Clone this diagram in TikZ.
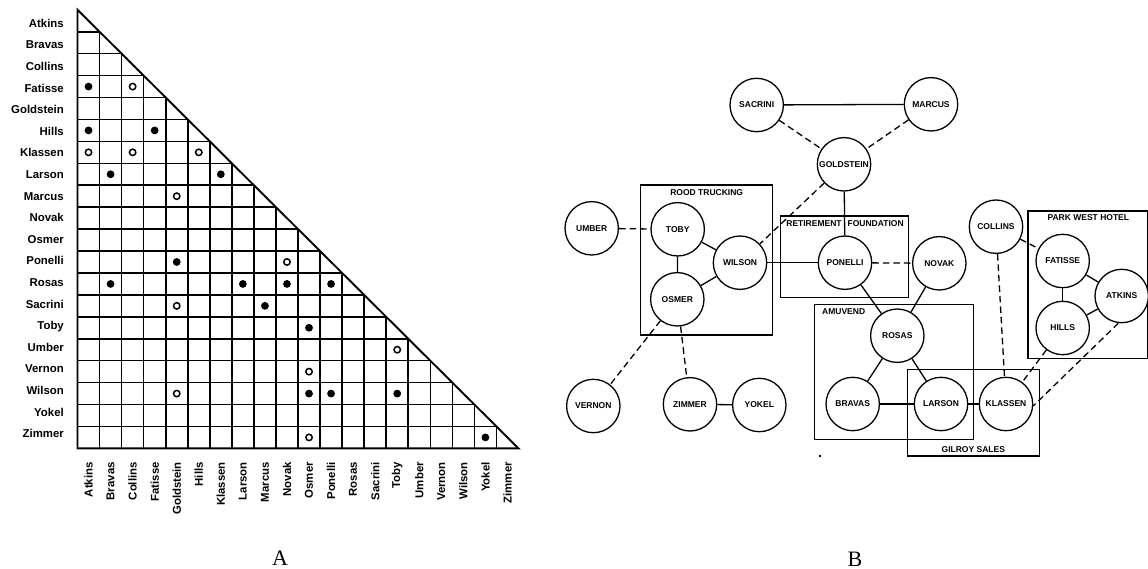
\documentclass[tikz,border=0pt]{standalone}
\usepackage{fontspec}
\setmainfont{Liberation Serif}
\setsansfont{Liberation Sans}
\begin{document}
\begin{tikzpicture}[x=1pt,y=-1pt,
  gridline/.style={line width=1.6pt},
  rowlab/.style={font=\sffamily\bfseries\fontsize{11.4}{13}\selectfont,anchor=base east,inner sep=0pt},
  collab/.style={font=\sffamily\bfseries\fontsize{11.4}{13}\selectfont,rotate=90,anchor=east,inner sep=0pt},
  person/.style={circle,draw,line width=1.3pt,fill=white,minimum size=53.4pt,inner sep=0pt,
     font=\sffamily\bfseries\fontsize{8.5}{10}\selectfont},
  tie/.style={line width=1.3pt},
  weak/.style={line width=1.3pt,dash pattern=on 6.5pt off 4pt},
  orgbox/.style={line width=1.2pt},
  orglab/.style={font=\sffamily\bfseries\fontsize{8.5}{10}\selectfont,inner sep=0pt},
  biglab/.style={font=\fontsize{22}{26}\selectfont,inner sep=0pt}
]
\useasboundingbox (0,0) rectangle (1148,569);
\fill[white] (0,0) rectangle (1148,569);

% ---------- matrix A ----------
\pgfmathsetmacro\mL{77.5}
\pgfmathsetmacro\mT{9.8}
\pgfmathsetmacro\mW{22.05}
\pgfmathsetmacro\mH{21.93}
\pgfmathsetmacro\mR{\mL+20*\mW}
\pgfmathsetmacro\mB{\mT+20*\mH}
\foreach \i in {1,...,19}
  \draw[gridline] (\mL,{\mT+\i*\mH}) -- ({\mL+\i*\mW},{\mT+\i*\mH});
\foreach \j in {1,...,19}
  \draw[gridline] ({\mL+\j*\mW},{\mT+\j*\mH}) -- ({\mL+\j*\mW},\mB);
\draw[line width=1.9pt,line join=miter] (\mL,\mT) -- (\mL,\mB) -- (\mR,\mB) -- cycle;

\foreach \n [count=\i from 0] in {Atkins,Bravas,Collins,Fatisse,Goldstein,Hills,Klassen,Larson,Marcus,Novak,Osmer,Ponelli,Rosas,Sacrini,Toby,Umber,Vernon,Wilson,Yokel,Zimmer}
{
  \node[rowlab] (row\i) at (64,{27.3+21.6*\i}) {\n};
  \node[collab] (col\i) at ({\mL+\mW*(\i+0.5)},462) {\n};
}

\foreach \i/\j in {3/0,5/0,5/3,7/1,7/6,11/4,12/1,12/7,12/9,12/11,13/8,14/10,17/10,17/11,17/14,19/18}
  \fill ({\mL+\mW*(\j+0.5)},{\mT+\mH*(\i+0.5)}) circle (3.9);
\foreach \i/\j in {3/2,6/0,6/2,6/5,8/4,11/9,13/4,15/14,16/10,17/4,19/10}
  \draw[line width=1.5pt] ({\mL+\mW*(\j+0.5)},{\mT+\mH*(\i+0.5)}) circle (3.2);

\node[biglab] (labA) at (280,558.3) {A};

% ---------- network B ----------
\draw[orgbox] (640.7,185) rectangle (772.7,335);
\node[orglab] (lrood) at (706.7,192.7) {ROOD TRUCKING};
\draw[orgbox] (780.7,216) rectangle (908.3,297.7);
\draw[orgbox] (814.3,304.3) rectangle (973.3,439.5);
\node[orglab,anchor=west] (lamu) at (822,311.7) {AMUVEND};
\draw[orgbox] (907.7,369.3) rectangle (1039.3,456);
\node[orglab] (lgil) at (973.3,449.3) {GILROY SALES};
\draw[orgbox] (1028,211) rectangle (1147.3,358.5);
\node[orglab] (lpark) at (1088.3,217.7) {PARK WEST HOTEL};

\node[person] (sac) at (756.7,105) {SACRINI};
\node[person] (mar) at (931,104.3) {MARCUS};
\node[person] (gol) at (844,164.3) {GOLDSTEIN};
\node[person] (umb) at (591.7,228.3) {UMBER};
\node[person] (tob) at (677.7,229.3) {TOBY};
\node[person] (wil) at (740,262.7) {WILSON};
\node[person] (osm) at (677.3,299.3) {OSMER};
\node[person] (pon) at (845,262.7) {PONELLI};
\node[person] (nov) at (939.3,263.3) {NOVAK};
\node[person] (col) at (996,226.7) {COLLINS};
\node[person] (fat) at (1062.7,261) {FATISSE};
\node[person] (atk) at (1121.7,296) {ATKINS};
\node[person] (hil) at (1062.7,328) {HILLS};
\node[person] (ros) at (897.3,335.7) {ROSAS};
\node[person] (bra) at (852.7,404) {BRAVAS};
\node[person] (lar) at (941,404) {LARSON};
\node[person] (kla) at (1006,404) {KLASSEN};
\node[person] (ver) at (593.3,406) {VERNON};
\node[person] (zim) at (690,404.3) {ZIMMER};
\node[person] (yok) at (759.3,405) {YOKEL};

\draw[tie] (sac) -- (mar);
\draw[tie] (gol) -- (pon);
\draw[tie] (tob) -- (wil);
\draw[tie] (tob) -- (osm);
\draw[tie] (osm) -- (wil);
\draw[tie] (wil) -- (pon);
\draw[tie] (pon) -- (ros);
\draw[tie] (nov) -- (ros);
\draw[tie] (ros) -- (bra);
\draw[tie] (ros) -- (lar);
\draw[tie] (bra) -- (lar);
\draw[tie] (lar) -- (kla);
\draw[tie] (fat) -- (atk);
\draw[tie] (fat) -- (hil);
\draw[tie] (hil) -- (atk);
\draw[tie] (zim) -- (yok);

\draw[weak] (sac) -- (gol);
\draw[weak] (mar) -- (gol);
\draw[weak] (gol) -- (wil);
\draw[weak] (umb) -- (tob);
\draw[weak] (pon) -- (nov);
\draw[weak] (col) -- (fat);
\draw[weak] (col) -- (kla);
\draw[weak] (hil) -- (kla);
\draw[weak] (atk.263) -- (kla.356);
\draw[weak] (osm) -- (ver);
\draw[weak] (osm) -- (zim);

\node[orglab] (lret) at (845,224) {RETIREMENT\hspace{6pt}FOUNDATION};

\fill (820,456) circle (1.4);

\node[biglab] (labB) at (855,559) {B};
\end{tikzpicture}
\end{document}
